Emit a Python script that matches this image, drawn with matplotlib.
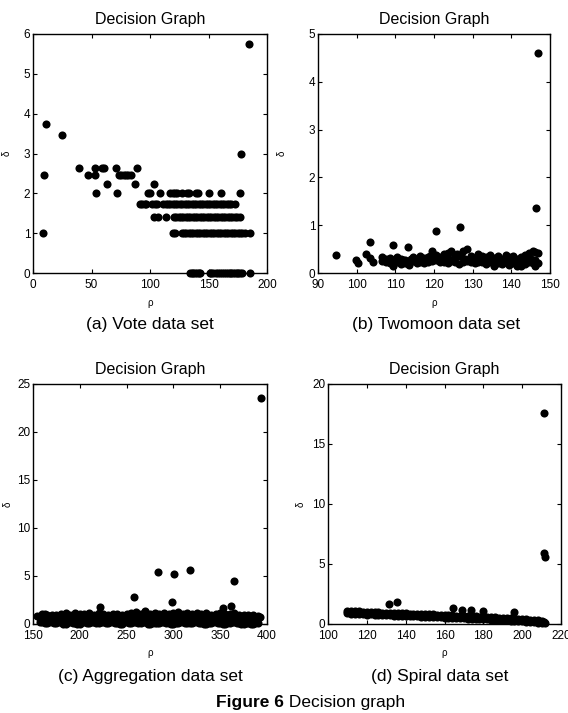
import matplotlib
matplotlib.use("Agg")
import matplotlib.pyplot as plt
from matplotlib import font_manager

plt.rcParams['font.family'] = ['Liberation Sans', 'DejaVu Sans']

# ---- (a) Vote: delta takes discrete values, rho positions per level
vote_levels = [0.0, 1.0, 1.414, 1.732, 2.0, 2.236, 2.449, 2.646, 3.0, 3.464, 3.742, 5.745]
vote_rho = [
    [134, 135.5, 137, 138.5, 140, 141.5, 143, 151, 152.5, 154, 156, 158, 160, 161.5, 163,
     165, 166.5, 168, 169.5, 171, 172.5, 174, 175.5, 177, 179, 185.5],
    [8.3, 120, 121.5, 127, 129, 131, 133, 135, 137, 139, 141, 143, 145, 147, 149, 151, 153,
     155, 157, 159, 161, 163, 165, 167, 169, 171, 173, 175, 177, 179, 181, 185.5],
    [103.5, 107, 113.5, 120.5, 122.5, 124.5, 126.5, 128.5, 130.5, 132.5, 134.5, 136.5, 138.5,
     140.5, 142.5, 144.5, 146.5, 148.5, 150.5, 152.5, 154.5, 156.5, 158.5, 160.5, 162.5,
     164.5, 166.5, 168.5, 170.5, 172.5, 174.5, 177],
    [91.5, 93.5, 95.5, 97, 102, 104, 106, 111.5, 113.5, 115.5, 117.5, 119.5, 121.5, 123.5,
     125.5, 127.5, 129.5, 131.5, 133.5, 135.5, 137.5, 139.5, 141.5, 143.5, 145.5, 147.5,
     149.5, 151.5, 153.5, 155.5, 157.5, 159.5, 161.5, 163.5, 165.5, 167.5, 169.5, 172.5],
    [53.5, 71.5, 98, 100, 108.5, 117.5, 119.5, 121.5, 123, 127, 131.5, 133.5, 139, 141,
     150.5, 161, 177],
    [63, 87.5, 103],
    [9.5, 47, 53, 73.5, 75.5, 77.5, 79.5, 81.5, 83.5],
    [39, 53, 59, 61, 71, 88.5],
    [177.5],
    [24.6],
    [11.4],
    [185],
]

# ---- (b) Twomoon
twomoon_rho = [94.75, 99.9, 100.4, 102.4, 103.5, 104.3, 103.5, 109.5, 113.3, 120.6, 126.8, 146.4, 147.0]
twomoon_delta = [0.375, 0.27, 0.2, 0.4, 0.31, 0.22, 0.64, 0.58, 0.55, 0.875, 0.965, 1.37, 4.6]
twomoon_band_rho = [106.5, 107.5, 108.5, 109.5, 110.5, 111.5, 112.5, 113.5, 114.5, 115.5,
                    116.5, 117.5, 118.5, 119.5, 120.5, 121.5, 122.5, 123.5, 124.5, 125.5,
                    126.5, 127.5, 128.5, 129.5, 130.5, 131.5, 132.5, 133.5, 134.5, 135.5,
                    136.5, 137.5, 138.5, 139.5, 140.5, 141.5, 142.5, 143.5, 144.5, 145.5,
                    146.2, 146.8]
twomoon_band_hi = [0.33, 0.30, 0.32, 0.28, 0.33, 0.30, 0.27, 0.24, 0.33, 0.30,
                   0.35, 0.31, 0.33, 0.47, 0.37, 0.34, 0.40, 0.42, 0.45, 0.38,
                   0.35, 0.47, 0.50, 0.35, 0.32, 0.40, 0.36, 0.33, 0.38, 0.32,
                   0.35, 0.30, 0.38, 0.33, 0.36, 0.30, 0.33, 0.38, 0.42, 0.45,
                   0.44, 0.42]
twomoon_band_lo = [0.25, 0.22, 0.20, 0.15, 0.24, 0.19, 0.20, 0.16, 0.25, 0.21,
                   0.23, 0.20, 0.22, 0.25, 0.27, 0.22, 0.24, 0.20, 0.26, 0.22,
                   0.18, 0.24, 0.25, 0.22, 0.20, 0.24, 0.22, 0.19, 0.23, 0.15,
                   0.20, 0.18, 0.22, 0.16, 0.20, 0.14, 0.15, 0.18, 0.22, 0.20,
                   0.15, 0.20]
twomoon_mid_rho = [107, 108, 109, 110, 111, 112, 113, 114, 115, 116,
                   117, 118, 119, 120, 121, 122, 123, 124, 125, 126,
                   127, 128, 129, 130, 131, 132, 133, 134, 135, 136,
                   137, 138, 139, 140, 141, 142, 143, 144, 145, 146]
twomoon_mid = [0.28, 0.26, 0.24, 0.30, 0.22, 0.27, 0.20, 0.30, 0.26, 0.28,
               0.25, 0.30, 0.35, 0.30, 0.28, 0.32, 0.33, 0.30, 0.28, 0.40,
               0.38, 0.30, 0.27, 0.30, 0.28, 0.26, 0.30, 0.25, 0.27, 0.24,
               0.30, 0.26, 0.28, 0.22, 0.25, 0.27, 0.30, 0.33, 0.30, 0.28]

# ---- (c) Aggregation
agg_rho = [154, 163, 222, 258, 270, 284, 299, 300.5, 318, 353, 362, 365, 394, 393]
agg_delta = [0.8, 1.0, 1.75, 2.8, 1.4, 5.45, 2.3, 5.25, 5.65, 1.65, 1.9, 4.5, 23.5, 0.7]
agg_band_rho = [160, 165, 170, 175, 180, 185, 190, 195, 200, 205,
                210, 215, 220, 225, 230, 235, 240, 245, 250, 255,
                260, 265, 270, 275, 280, 285, 290, 295, 300, 305,
                310, 315, 320, 325, 330, 335, 340, 345, 350, 355,
                360, 365, 370, 375, 380, 385, 390]
agg_band_rho_b = [157.5, 162.5, 167.5, 172.5, 177.5, 182.5, 187.5, 192.5, 197.5, 202.5,
                  207.5, 212.5, 217.5, 222.5, 227.5, 232.5, 237.5, 242.5, 247.5, 252.5,
                  257.5, 262.5, 267.5, 272.5, 277.5, 282.5, 287.5, 292.5, 297.5, 302.5,
                  307.5, 312.5, 317.5, 322.5, 327.5, 332.5, 337.5, 342.5, 347.5, 352.5,
                  357.5, 362.5, 367.5, 372.5, 377.5, 382.5, 387.5]
agg_band_hi = [1.0, 0.9, 0.95, 0.9, 1.0, 1.1, 0.95, 1.1, 1.05, 1.0,
               1.1, 0.95, 1.1, 1.0, 0.9, 1.05, 1.0, 0.95, 1.0, 1.1,
               1.3, 1.0, 1.3, 1.0, 1.15, 1.0, 1.1, 1.05, 1.1, 1.3,
               1.05, 1.1, 1.0, 1.1, 1.05, 1.1, 0.95, 1.0, 1.1, 1.0,
               1.0, 1.1, 0.95, 0.9, 0.95, 0.9, 0.85]
agg_band_mid = [0.6, 0.55, 0.6, 0.5, 0.65, 0.6, 0.55, 0.7, 0.6, 0.5,
                0.65, 0.6, 0.55, 0.6, 0.5, 0.65, 0.6, 0.55, 0.6, 0.5,
                0.6, 0.65, 0.55, 0.6, 0.5, 0.6, 0.65, 0.55, 0.6, 0.5,
                0.6, 0.55, 0.65, 0.6, 0.5, 0.6, 0.55, 0.6, 0.65, 0.5,
                0.6, 0.55, 0.6, 0.5, 0.6, 0.55, 0.5]
agg_band_lo = [0.2, 0.15, 0.25, 0.1, 0.2, 0.05, 0.25, 0.1, 0.05, 0.2,
               0.15, 0.2, 0.1, 0.25, 0.15, 0.2, 0.1, 0.05, 0.2, 0.15,
               0.25, 0.1, 0.2, 0.05, 0.1, 0.15, 0.2, 0.1, 0.05, 0.15,
               0.2, 0.1, 0.15, 0.2, 0.1, 0.05, 0.15, 0.2, 0.1, 0.05,
               0.15, 0.2, 0.1, 0.05, 0.15, 0.05, 0.1]

# ---- (d) Spiral
spiral_rho = [211, 212, 211.5, 211.2, 211.8, 131.5, 135.7, 164.5, 169, 173.5, 180, 196]
spiral_delta = [0.15, 0.05, 17.6, 5.9, 5.6, 1.66, 1.8, 1.3, 1.2, 1.2, 1.1, 1.0]
spiral_band_rho = [110, 112, 114, 116, 118, 120, 122, 124, 126, 128,
                   130, 132, 134, 136, 138, 140, 142, 144, 146, 148,
                   150, 152, 154, 156, 158, 160, 162, 164, 166, 168,
                   170, 172, 174, 176, 178, 180, 182, 184, 186, 188,
                   190, 192, 194, 196, 198, 200, 202, 204, 206, 208, 210]
spiral_band_hi = [1.1, 1.05, 1.05, 1.08, 1.02, 1.0, 1.0, 0.97, 1.0, 0.95,
                  0.95, 0.93, 0.92, 0.9, 0.9, 0.88, 0.87, 0.85, 0.85, 0.83,
                  0.82, 0.8, 0.8, 0.78, 0.77, 0.75, 0.73, 0.72, 0.7, 0.7,
                  0.68, 0.66, 0.65, 0.63, 0.62, 0.6, 0.58, 0.57, 0.55, 0.53,
                  0.52, 0.5, 0.48, 0.46, 0.45, 0.42, 0.4, 0.37, 0.34, 0.3, 0.25]
spiral_band_lo = [0.9, 0.85, 0.82, 0.85, 0.8, 0.78, 0.8, 0.75, 0.78, 0.73,
                  0.72, 0.72, 0.7, 0.68, 0.7, 0.66, 0.65, 0.63, 0.64, 0.6,
                  0.6, 0.58, 0.57, 0.56, 0.55, 0.53, 0.52, 0.5, 0.5, 0.48,
                  0.46, 0.45, 0.44, 0.42, 0.4, 0.4, 0.38, 0.36, 0.35, 0.33,
                  0.32, 0.3, 0.28, 0.26, 0.25, 0.22, 0.2, 0.18, 0.15, 0.12, 0.1]

captions = ["(a) Vote data set", "(b) Twomoon data set",
            "(c) Aggregation data set", "(d) Spiral data set"]

avail = {f.name for f in font_manager.fontManager.ttflist}
if 'Liberation Sans Narrow' in avail:
    tick_font, tick_size = 'Liberation Sans Narrow', 9.5
else:
    tick_font, tick_size = 'Liberation Sans', 8.5

W, H = 568, 713
fig = plt.figure(figsize=(W / 100, H / 100), dpi=100)

def box(l, t, r, b):
    return [l / W, 1 - b / H, (r - l) / W, (b - t) / H]

ax_a = fig.add_axes(box(33, 34, 267, 273))
ax_b = fig.add_axes(box(318, 34, 550, 273))
ax_c = fig.add_axes(box(33, 384, 267, 624))
ax_d = fig.add_axes(box(328, 384, 561, 624))

S = 34
kw = dict(s=S, c='black', marker='o', linewidths=0, clip_on=False, zorder=3)

for lvl, xs in zip(vote_levels, vote_rho):
    ax_a.scatter(xs, [lvl] * len(xs), **kw)

ax_b.scatter(twomoon_band_rho, twomoon_band_hi, **kw)
ax_b.scatter(twomoon_band_rho, twomoon_band_lo, **kw)
ax_b.scatter(twomoon_mid_rho, twomoon_mid, **kw)
ax_b.scatter(twomoon_rho, twomoon_delta, **kw)

ax_c.scatter(agg_band_rho, agg_band_hi, **kw)
ax_c.scatter(agg_band_rho_b, agg_band_mid, **kw)
ax_c.scatter(agg_band_rho, agg_band_lo, **kw)
ax_c.scatter(agg_band_rho_b, agg_band_lo, **kw)
ax_c.scatter(agg_rho, agg_delta, **kw)

ax_d.scatter(spiral_band_rho, spiral_band_hi, **kw)
ax_d.scatter(spiral_band_rho, spiral_band_lo, **kw)
ax_d.scatter(spiral_rho, spiral_delta, **kw)

limits = [((0, 200), (0, 6), range(0, 201, 50), range(0, 7)),
          ((90, 150), (0, 5), range(90, 151, 10), range(0, 6)),
          ((150, 400), (0, 25), range(150, 401, 50), range(0, 26, 5)),
          ((100, 220), (0, 20), range(100, 221, 20), range(0, 21, 5))]
ylab_x = [-0.09, -0.134, -0.087, -0.096]

for ax, (xl, yl, xt, yt), lx in zip([ax_a, ax_b, ax_c, ax_d], limits, ylab_x):
    ax.set_xlim(*xl)
    ax.set_ylim(*yl)
    ax.set_xticks(list(xt))
    ax.set_yticks(list(yt))
    ax.tick_params(direction='in', length=3, width=0.8, top=True, right=True,
                   labelsize=tick_size)
    ax.tick_params(axis='x', pad=4)
    ax.tick_params(axis='y', pad=2)
    for lab in ax.get_xticklabels() + ax.get_yticklabels():
        lab.set_family(tick_font)
    for sp in ax.spines.values():
        sp.set_linewidth(1.0)
    ax.set_title("Decision Graph", fontsize=11.5, pad=7)
    ax.set_xlabel("ρ", fontsize=7, labelpad=5)
    ax.set_ylabel("δ", fontsize=7)
    ax.yaxis.set_label_coords(lx, 0.5)

fig.text(150 / W, 1 - 325 / H, captions[0], ha='center', va='center', fontsize=12.5)
fig.text(436 / W, 1 - 325 / H, captions[1], ha='center', va='center', fontsize=12.5)
fig.text(150 / W, 1 - 677 / H, captions[2], ha='center', va='center', fontsize=12.5)
fig.text(440 / W, 1 - 677 / H, captions[3], ha='center', va='center', fontsize=12.5)

fig.text(284 / W, 1 - 702 / H, "Figure 6", ha='right', va='center',
         fontsize=12.5, fontweight='bold')
fig.text(284 / W, 1 - 702 / H, " Decision graph", ha='left', va='center', fontsize=12.5)

fig.savefig("out.png", dpi=100)
